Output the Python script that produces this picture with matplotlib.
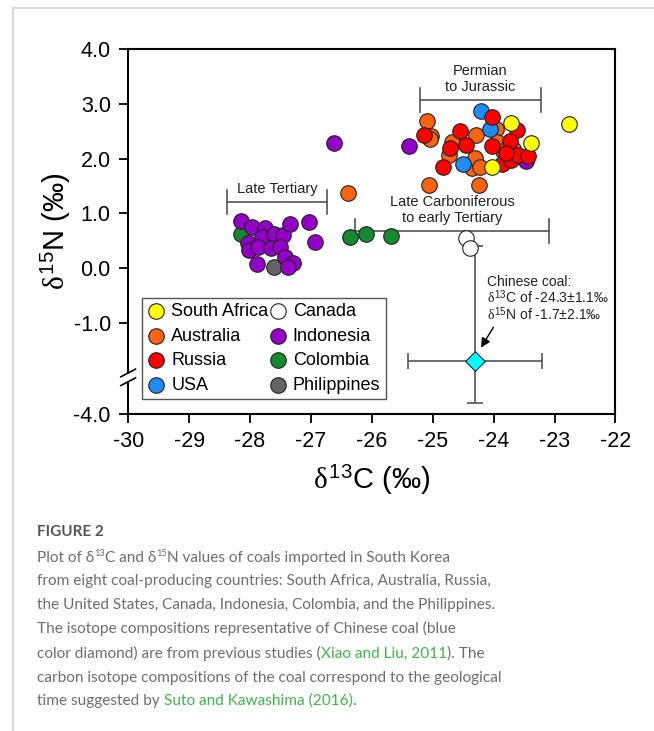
import matplotlib.pyplot as plt
from matplotlib.lines import Line2D

plt.rcParams['font.family'] = ['Liberation Sans', 'DejaVu Sans']
plt.rcParams['mathtext.fontset'] = 'custom'
plt.rcParams['mathtext.rm'] = 'Liberation Sans'
plt.rcParams['mathtext.it'] = 'Liberation Serif'

# d13C / d15N values, per country
south_africa_c = [-23.72, -24.03, -23.39, -22.76]
south_africa_n = [2.66, 1.84, 2.29, 2.63]
australia_c = [-25.09, -25.03, -25.05, -23.96, -24.29, -24.69, -24.73, -24.36,
               -24.31, -24.23, -25.06, -24.24, -23.94, -23.68, -23.84, -26.39]
australia_n = [2.69, 2.41, 2.36, 2.55, 2.43, 2.31, 2.07, 1.82,
               2.02, 1.85, 1.52, 1.52, 2.31, 2.17, 2.14, 1.37]
russia_c = [-25.14, -24.02, -23.62, -24.56, -24.45, -24.72, -24.83, -24.02,
            -23.73, -23.87, -23.72, -23.60, -23.43, -23.79]
russia_n = [2.43, 2.77, 2.52, 2.51, 2.25, 2.19, 1.85, 2.23,
            2.33, 1.91, 1.97, 2.07, 2.05, 2.10]
usa_c = [-24.20, -24.06, -24.50]
usa_n = [2.88, 2.54, 1.91]
canada_c = [-24.45, -24.39]
canada_n = [0.54, 0.36]
indonesia_c = [-26.62, -25.39, -23.46, -28.15, -27.97, -27.76, -27.81, -27.61,
               -27.45, -27.34, -27.03, -26.93, -28.03, -28.01, -27.87, -27.65,
               -27.51, -27.89, -27.43, -27.29, -27.37]
indonesia_n = [2.29, 2.23, 1.96, 0.865, 0.755, 0.725, 0.57, 0.63,
               0.60, 0.80, 0.85, 0.48, 0.45, 0.33, 0.39, 0.36,
               0.39, 0.07, 0.20, 0.09, 0.02]
colombia_c = [-28.15, -26.35, -26.10, -25.69]
colombia_n = [0.62, 0.57, 0.62, 0.585]
philippines_c = [-27.60]
philippines_n = [0.02]

# Chinese coal (Xiao and Liu, 2011)
china_c, china_c_sd = -24.3, 1.1
china_n, china_n_sd = -1.7, 2.1

# geological periods (Suto and Kawashima 2016)
period_labels = ['Permian\nto Jurassic', 'Late Carboniferous\nto early Tertiary', 'Late Tertiary']
period_start = [-25.21, -26.28, -28.37]
period_end = [-23.22, -23.09, -26.73]
period_level = [3.08, 0.68, 1.21]

y_ticks = [4.0, 3.0, 2.0, 1.0, 0.0, -1.0, -4.0]
x_ticks = [-30, -29, -28, -27, -26, -25, -24, -23, -22]

# y axis is broken below -2
BREAK = -2.0
SHIFT = 1.33
def brk(v):
    return v if v > BREAK else v + SHIFT

fig = plt.figure(figsize=(6.54, 7.31), dpi=100)
ax = fig.add_axes([0.196, 0.4337, 0.745, 0.4989])

# range bars
cap = 0.22
for lab, x0, x1, lv in zip(period_labels, period_start, period_end, period_level):
    ax.plot([x0, x1], [lv, lv], color='#555555', lw=1.2, zorder=1)
    ax.plot([x0, x0], [lv - cap, lv + cap], color='#555555', lw=1.2, zorder=1)
    ax.plot([x1, x1], [lv - cap, lv + cap], color='#555555', lw=1.2, zorder=1)
    ax.text((x0 + x1) / 2, lv + 0.1, lab, ha='center', va='bottom',
            fontsize=10.5, linespacing=1.2, color='#222222')

# Chinese coal error bars
low = china_n - brk(china_n - china_n_sd)
ax.errorbar([china_c], [china_n], xerr=china_c_sd, yerr=[[low], [china_n_sd]],
            fmt='none', ecolor='#555555', elinewidth=1.2, capsize=6, capthick=1.2, zorder=1)

groups = [
    ('Colombia', colombia_c, colombia_n, '#15892f'),
    ('Philippines', philippines_c, philippines_n, '#646464'),
    ('Indonesia', indonesia_c, indonesia_n, '#9400c8'),
    ('Canada', canada_c, canada_n, 'white'),
    ('Australia', australia_c, australia_n, '#fa6410'),
    ('USA', usa_c, usa_n, '#1e8cf5'),
    ('Russia', russia_c, russia_n, '#ff0000'),
    ('South Africa', south_africa_c, south_africa_n, '#ffff00'),
]
handles = {}
for name, xs, ys, col in groups:
    handles[name] = ax.scatter(xs, [brk(v) for v in ys], s=125, c=col,
                               edgecolors='#222222', linewidths=0.8, zorder=3, label=name)

ax.scatter([china_c], [china_n], marker='D', s=100, c='#00ffff',
           edgecolors='#222222', linewidths=0.8, zorder=4)

ax.text(-24.11, -0.57, 'Chinese coal:\n$\\delta^{13}$C of -24.3±1.1‰\n$\\delta^{15}$N of -1.7±2.1‰',
        fontsize=10, va='center', ha='left', linespacing=0.95, color='#222222')
ax.annotate('', xy=(-24.23, -1.50), xytext=(-23.98, -1.04),
            arrowprops=dict(arrowstyle='-|>', color='black', lw=1, mutation_scale=14))

order = ['South Africa', 'Australia', 'Russia', 'USA', 'Canada', 'Indonesia', 'Colombia', 'Philippines']
leg = ax.legend([handles[k] for k in order], order, ncol=2, loc='upper left',
                bbox_to_anchor=(0.0275, 0.319), borderaxespad=0, fontsize=13,
                frameon=True, fancybox=False, edgecolor='#555555', framealpha=1,
                handletextpad=0.35, columnspacing=0.0, labelspacing=0.42,
                borderpad=0.3, handlelength=1.0, markerscale=1.0)
leg.get_frame().set_linewidth(1.0)

ax.set_xlim(-30, -22)
ax.set_ylim(brk(-4.0), 4.0)
ax.set_xticks(x_ticks)
ax.set_xticklabels([str(v) for v in x_ticks])
ax.set_yticks([brk(v) for v in y_ticks])
ax.set_yticklabels(['%.1f' % v for v in y_ticks])
ax.tick_params(direction='out', length=6.5, width=1.3, labelsize=15.5, pad=6)
for sp in ax.spines.values():
    sp.set_linewidth(1.5)

ax.set_xlabel('$\\delta^{13}$C (‰)', fontsize=21, labelpad=8)
ax.set_ylabel('$\\delta^{15}$N (‰)', fontsize=21, labelpad=0)

# axis break marks
tr = ax.get_yaxis_transform()
ax.fill_between([-0.02, 0.02], [BREAK - 0.07] * 2, [BREAK + 0.07] * 2, color='white',
                transform=tr, clip_on=False, zorder=5)
for yy in (BREAK - 0.08, BREAK + 0.08):
    ax.plot([-0.015, 0.015], [yy - 0.07, yy + 0.07], color='black', lw=1.2,
            transform=tr, clip_on=False, zorder=6)

# page frame
fig.add_artist(Line2D([13 / 654, 13 / 654], [0, 1 - 8 / 731], color='#d8d8d8', lw=1.5))
fig.add_artist(Line2D([13 / 654, 1], [1 - 8 / 731, 1 - 8 / 731], color='#d8d8d8', lw=1.5))

# caption
renderer = fig.canvas.get_renderer()
cap_font = 'Lato'
cap_size = 11.1
grey = '#6e6e6e'
green = '#3fb64a'

def put_line(segments, y_px, x_px=37):
    x = x_px
    for txt, col, sup in segments:
        if txt == ' ':
            t = fig.text(0, 0, 'x x', fontsize=cap_size, family=cap_font)
            t2 = fig.text(0, 0, 'xx', fontsize=cap_size, family=cap_font)
            w = t.get_window_extent(renderer).width - t2.get_window_extent(renderer).width
            t.remove(); t2.remove()
            x += w
            continue
        size = cap_size * 0.6 if sup else cap_size
        yy = y_px + 5 - (6 if sup else 0)
        t = fig.text(x / 654, 1 - yy / 731, txt, color=col, fontsize=size,
                     family=cap_font, va='baseline', ha='left')
        x += t.get_window_extent(renderer).width

fig.text(37 / 654, 1 - 532 / 731, 'FIGURE 2', fontsize=11, fontweight='bold',
         color='#555555', family=cap_font, va='center')
put_line([('Plot of δ', grey, False), ('13', grey, True), ('C and δ', grey, False),
          ('15', grey, True), ('N values of coals imported in South Korea', grey, False)], 557)
put_line([('from eight coal-producing countries: South Africa, Australia, Russia,', grey, False)], 580)
put_line([('the United States, Canada, Indonesia, Colombia, and the Philippines.', grey, False)], 604)
put_line([('The isotope compositions representative of Chinese coal (blue', grey, False)], 628)
put_line([('color diamond) are from previous studies (', grey, False),
          ('Xiao and Liu, 2011', green, False), ('). The', grey, False)], 653)
put_line([('carbon isotope compositions of the coal correspond to the geological', grey, False)], 677)
put_line([('time suggested by', grey, False), (' ', grey, False),
          ('Suto and Kawashima (2016)', green, False), ('.', grey, False)], 700)

fig.savefig('out.png', dpi=100)
